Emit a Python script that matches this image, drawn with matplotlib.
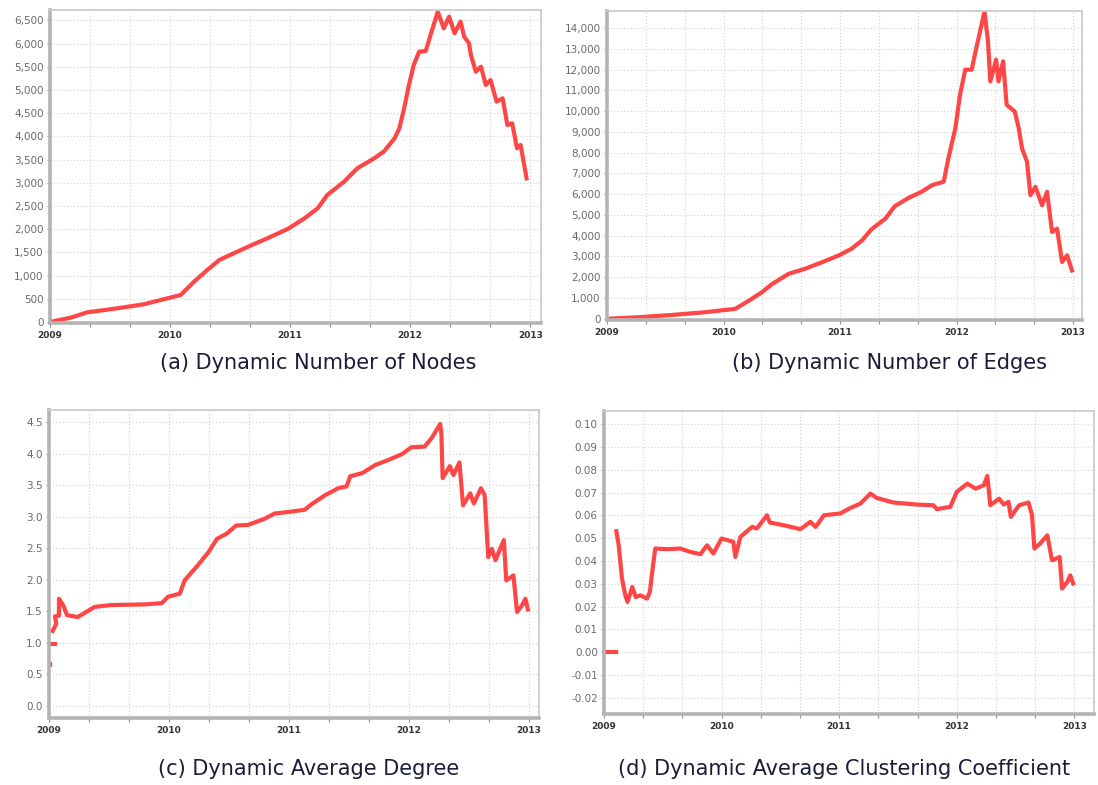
import matplotlib
matplotlib.use("Agg")
import matplotlib.pyplot as plt
from matplotlib.ticker import MultipleLocator, FuncFormatter

# (a) number of nodes
node_years = [2009.0, 2009.172, 2009.311, 2009.561, 2009.78, 2009.978, 2010.089, 2010.2, 2010.31,
              2010.41, 2010.53, 2010.67, 2010.81, 2010.98, 2011.12, 2011.23, 2011.31, 2011.45,
              2011.56, 2011.70, 2011.78, 2011.87, 2011.91, 2011.95, 2011.99, 2012.03, 2012.075,
              2012.13, 2012.17, 2012.23, 2012.28, 2012.325, 2012.37, 2012.42, 2012.45, 2012.49,
              2012.506, 2012.547, 2012.59, 2012.63, 2012.67, 2012.72, 2012.77, 2012.81, 2012.85,
              2012.89, 2012.92, 2012.97]
nodes = [0, 93, 208, 295, 381, 510, 582, 869, 1120, 1336, 1480, 1645, 1803, 2004, 2234, 2450,
         2737, 3024, 3312, 3527, 3671, 3958, 4174, 4605, 5108, 5539, 5826, 5840, 6186, 6688,
         6329, 6581, 6221, 6473, 6150, 6006, 5754, 5395, 5503, 5108, 5215, 4749, 4821, 4246,
         4282, 3743, 3815, 3096]

# (b) number of edges
edge_years = [2009.03, 2009.27, 2009.56, 2009.84, 2010.10, 2010.22, 2010.33, 2010.42, 2010.56,
              2010.70, 2010.85, 2010.99, 2011.10, 2011.19, 2011.27, 2011.39, 2011.47, 2011.59,
              2011.70, 2011.79, 2011.89, 2011.93, 2011.99, 2012.03, 2012.075, 2012.13, 2012.17,
              2012.24, 2012.27, 2012.29, 2012.34, 2012.36, 2012.40, 2012.43, 2012.50, 2012.534,
              2012.562, 2012.605, 2012.634, 2012.677, 2012.734, 2012.777, 2012.820, 2012.863,
              2012.906, 2012.949, 2012.991]
edges = [0, 65, 177, 306, 468, 871, 1274, 1677, 2161, 2403, 2726, 3048, 3371, 3774, 4307, 4823,
         5420, 5823, 6113, 6436, 6597, 7726, 9178, 10791, 12001, 12001, 13049, 14800, 13372,
         11437, 12485, 11437, 12404, 10307, 9985, 9178, 8210, 7565, 5952, 6355, 5468, 6113,
         4178, 4339, 2726, 3049, 2323]

# (c) average degree
deg_first_years = [2009.004]
deg_first = [0.66]
deg_flat_years = [2009.004, 2009.05]
deg_flat = [0.98, 0.98]
deg_years = [2009.03, 2009.06, 2009.05, 2009.083, 2009.083, 2009.12, 2009.15, 2009.24, 2009.38,
             2009.52, 2009.80, 2009.94, 2009.99, 2010.09, 2010.13, 2010.24, 2010.33, 2010.40,
             2010.48, 2010.56, 2010.66, 2010.80, 2010.88, 2011.02, 2011.13, 2011.19, 2011.30,
             2011.41, 2011.48, 2011.51, 2011.61, 2011.72, 2011.83, 2011.94, 2012.02, 2012.13,
             2012.19, 2012.26, 2012.27, 2012.28, 2012.34, 2012.37, 2012.42, 2012.45, 2012.51,
             2012.54, 2012.60, 2012.63, 2012.66, 2012.69, 2012.72, 2012.79, 2012.81, 2012.87,
             2012.90, 2012.94, 2012.97, 2012.99]
degree = [1.19, 1.30, 1.42, 1.43, 1.70, 1.59, 1.44, 1.41, 1.57, 1.60, 1.61, 1.63, 1.73, 1.78,
          1.99, 2.23, 2.44, 2.65, 2.73, 2.86, 2.87, 2.97, 3.05, 3.08, 3.11, 3.20, 3.34, 3.45,
          3.48, 3.64, 3.69, 3.82, 3.90, 3.99, 4.10, 4.11, 4.25, 4.47, 4.30, 3.61, 3.80, 3.66,
          3.86, 3.18, 3.37, 3.21, 3.45, 3.34, 2.36, 2.49, 2.31, 2.63, 1.99, 2.07, 1.49, 1.59,
          1.70, 1.53]

# (d) average clustering coefficient
cc_zero_years = [2009.026, 2009.105]
cc_zero = [0.0, 0.0]
cc_years = [2009.105, 2009.125, 2009.139, 2009.153, 2009.181, 2009.20, 2009.24, 2009.27, 2009.31,
            2009.366, 2009.39, 2009.417, 2009.436, 2009.536, 2009.649, 2009.734, 2009.82,
            2009.876, 2009.93, 2010.00, 2010.10, 2010.117, 2010.16, 2010.26, 2010.30, 2010.386,
            2010.41, 2010.53, 2010.67, 2010.755, 2010.80, 2010.87, 2011.01, 2011.095, 2011.18,
            2011.265, 2011.32, 2011.46, 2011.66, 2011.80, 2011.83, 2011.945, 2012.00, 2012.09,
            2012.16, 2012.23, 2012.26, 2012.285, 2012.36, 2012.40, 2012.44, 2012.46, 2012.53,
            2012.61, 2012.64, 2012.66, 2012.71, 2012.77, 2012.81, 2012.875, 2012.895, 2012.94,
            2012.965, 2012.99]
clustering = [0.0531, 0.0469, 0.0396, 0.0323, 0.0249, 0.0220, 0.0286, 0.0242, 0.0249, 0.0235,
              0.0264, 0.0381, 0.0455, 0.0452, 0.0455, 0.0440, 0.0430, 0.0469, 0.0433, 0.0499,
              0.0484, 0.0418, 0.0506, 0.0550, 0.0543, 0.0601, 0.0569, 0.0557, 0.0540, 0.0572,
              0.0550, 0.0601, 0.0609, 0.0633, 0.0652, 0.0696, 0.0677, 0.0657, 0.0648, 0.0645,
              0.0628, 0.0638, 0.0704, 0.0740, 0.0718, 0.0733, 0.0774, 0.0645, 0.0674, 0.0648,
              0.0660, 0.0594, 0.0645, 0.0657, 0.0601, 0.0455, 0.0477, 0.0513, 0.0403, 0.0418,
              0.0279, 0.0308, 0.0337, 0.0301]

year_labels = ["2009", "2010", "2011", "2012", "2013"]
captions = ["(a) Dynamic Number of Nodes", "(b) Dynamic Number of Edges",
            "(c) Dynamic Average Degree", "(d) Dynamic Average Clustering Coefficient"]

W, H = 1098, 785
RED = "#ff4646"


def make_axes(fig, x0, x1, y0, y1):
    # pixel box -> figure fraction
    return fig.add_axes([x0 / W, 1 - y1 / H, (x1 - x0) / W, (y1 - y0) / H])


def style(ax, xmax, ylim, ystep, fmt):
    ax.set_xlim(2009.0, xmax)
    ax.set_ylim(*ylim)
    ax.xaxis.set_major_locator(MultipleLocator(1))
    ax.xaxis.set_minor_locator(MultipleLocator(1 / 3))
    ax.yaxis.set_major_locator(MultipleLocator(ystep))
    ax.xaxis.set_major_formatter(FuncFormatter(lambda v, p: year_labels[int(round(v)) - 2009]
                                               if 0 <= int(round(v)) - 2009 < 5 else ""))
    ax.yaxis.set_major_formatter(FuncFormatter(fmt))
    ax.grid(True, which="both", axis="x", color="#cfcfcf", lw=0.8, ls=(0, (1, 2)))
    ax.grid(True, which="major", axis="y", color="#cfcfcf", lw=0.8, ls=(0, (1, 2)))
    ax.set_axisbelow(True)
    ax.tick_params(axis="y", length=2.5, width=0.8, color="#909090", labelsize=7.5,
                   labelcolor="#6a6a6a", pad=2)
    ax.tick_params(axis="x", which="both", length=3, width=0.8, color="#909090",
                   labelsize=6.5, labelcolor="#333333", pad=3)
    for lbl in ax.get_xticklabels():
        lbl.set_fontweight("bold")
    for s in ["left", "bottom"]:
        ax.spines[s].set_color("#b4b4b4")
        ax.spines[s].set_linewidth(2.6)
    for s in ["top", "right"]:
        ax.spines[s].set_color("#cccccc")
        ax.spines[s].set_linewidth(1.3)


fig = plt.figure(figsize=(W / 100, H / 100), dpi=100)

ax_a = make_axes(fig, 50, 541, 10, 323)
ax_a.plot(node_years, nodes, color=RED, lw=3.0)
style(ax_a, 2013.09, (-22, 6724), 500, lambda v, p: f"{v:,.0f}")

ax_b = make_axes(fig, 607, 1082, 11, 320)
ax_b.plot(edge_years, edges, color=RED, lw=3.0)
style(ax_b, 2013.077, (-68, 14830), 1000, lambda v, p: f"{v:,.0f}")

ax_c = make_axes(fig, 49, 539, 410, 718)
ax_c.plot(deg_first_years, deg_first, "s", color=RED, ms=3)
ax_c.plot(deg_flat_years, deg_flat, color=RED, lw=3.0)
ax_c.plot(deg_years, degree, color=RED, lw=3.0)
style(ax_c, 2013.083, (-0.19, 4.69), 0.5, lambda v, p: f"{v:.1f}")

ax_d = make_axes(fig, 604, 1094, 411, 714)
ax_d.plot(cc_zero_years, cc_zero, color=RED, lw=3.0)
ax_d.plot(cc_years, clustering, color=RED, lw=3.0)
style(ax_d, 2013.167, (-0.0272, 0.1059), 0.01, lambda v, p: f"{v:.2f}")

cap_pos = [(318, 363), (890, 363), (309, 769), (844, 769)]
for (cx, cy), txt in zip(cap_pos, captions):
    fig.text(cx / W, 1 - cy / H, txt, ha="center", va="center", fontsize=15,
             color="#1c1c3a", family="DejaVu Sans")

fig.savefig("out.png", dpi=100)
